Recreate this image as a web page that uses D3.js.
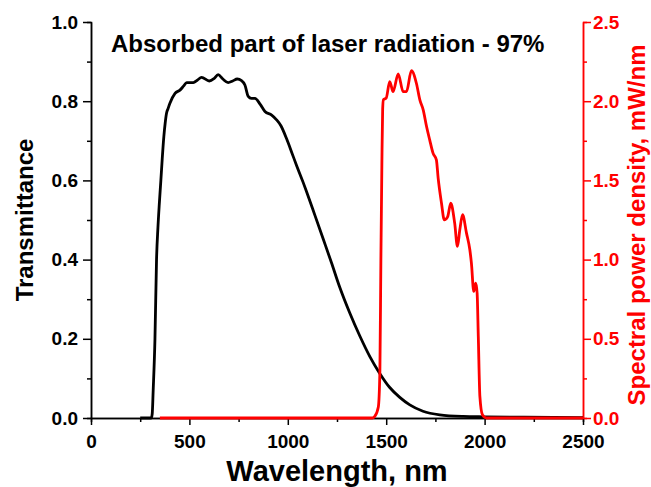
<!DOCTYPE html>
<html>
<head>
<meta charset="utf-8">
<script src="https://cdn.jsdelivr.net/npm/d3@7"></script>
<style>
    body { margin: 0; background: #fff; }
    svg { font-family: "Liberation Sans", Arial, sans-serif; font-weight: bold; }
    .axis path, .axis line { stroke-width: 1.5; }
</style>
</head>
<body>
<svg id="chart" width="651" height="487"></svg>
<script>
/**
 * Data.
 */
const transWavelength = [250, 306, 311, 316, 325, 333, 340, 347, 355, 362,
    370, 377, 384, 392, 401, 427, 452, 470, 486, 520,
    540, 562, 601, 625, 646, 670, 697, 720, 743, 765,
    782, 799, 815, 833, 860, 884, 918, 943, 965, 994,
    1019, 1045, 1078, 1095, 1137, 1180, 1222, 1264, 1315, 1366,
    1417, 1468, 1518, 1569, 1620, 1687, 1772, 1891, 2000, 2200, 2500];
const transmittance = [0, 0, 0.01, 0.07, 0.2, 0.40, 0.48, 0.54, 0.60, 0.655,
    0.71, 0.745, 0.77, 0.782, 0.795, 0.820, 0.828, 0.838, 0.847, 0.847,
    0.853, 0.860, 0.851, 0.857, 0.867, 0.856, 0.847, 0.851, 0.856, 0.852,
    0.841, 0.812, 0.807, 0.807, 0.792, 0.774, 0.765, 0.753, 0.738, 0.705,
    0.672, 0.637, 0.595, 0.572, 0.513, 0.452, 0.392, 0.330, 0.265, 0.207,
    0.155, 0.112, 0.077, 0.052, 0.033, 0.017, 0.008, 0.004, 0.003, 0.002, 0.001];

const laserWavelength = [350, 1430, 1442, 1460, 1468, 1473, 1478, 1482, 1486, 1500,
    1518, 1535, 1561, 1586, 1603, 1628, 1654, 1671, 1688, 1705,
    1721, 1738, 1755, 1764, 1781, 1795, 1812, 1828, 1848, 1862,
    1874, 1888, 1908, 1925, 1933, 1945, 1955, 1962, 1968, 1976,
    1989, 2009, 2500];
const laserPower = [0, 0, 0.01, 0.07, 0.30, 1.0, 1.6, 1.95, 2.01, 2.02,
    2.124, 2.06, 2.172, 2.06, 2.06, 2.193, 2.11, 2.008, 1.945, 1.84,
    1.756, 1.672, 1.63, 1.514, 1.356, 1.251, 1.27, 1.356, 1.230, 1.083,
    1.188, 1.283, 1.167, 1.062, 0.978, 0.799, 0.852, 0.789, 0.515, 0.136,
    0.02, 0, 0];

const xTicks = [0, 500, 1000, 1500, 2000, 2500],
    leftTicks = [0, 0.2, 0.4, 0.6, 0.8, 1.0],
    rightTicks = [0, 0.5, 1.0, 1.5, 2.0, 2.5];

const annotation = 'Absorbed part of laser radiation - 97%',
    xTitle = 'Wavelength, nm',
    leftTitle = 'Transmittance',
    rightTitle = 'Spectral power density, mW/nm';

/**
 * Layout.
 */
const margin = { top: 22, right: 68, bottom: 69, left: 91 },
    visWidth = 651, visHeight = 487,
    width = visWidth - margin.left - margin.right,
    height = visHeight - margin.top - margin.bottom,
    red = '#ff0000',
    tickFont = 19;

const xScale = d3.scaleLinear().domain([0, 2500]).range([0, width]),
    yLeft = d3.scaleLinear().domain([0, 1]).range([height, 0]),
    yRight = d3.scaleLinear().domain([0, 2.5]).range([height, 0]);

const svg = d3.select('#chart');
const g = svg.append('g').attr('transform', 'translate(' + margin.left + ',' + margin.top + ')');

// Minor ticks first so the major ones sit on top
g.append('g').attr('class', 'axis')
    .attr('transform', 'translate(0,' + height + ')')
    .call(d3.axisBottom(xScale).tickValues(d3.range(250, 2500, 500)).tickSize(4).tickFormat(''));
g.append('g').attr('class', 'axis')
    .call(d3.axisLeft(yLeft).tickValues(d3.range(0.1, 1, 0.2)).tickSize(4).tickFormat(''));
g.append('g').attr('class', 'axis')
    .attr('transform', 'translate(' + width + ',0)')
    .call(d3.axisRight(yRight).tickValues([0.25, 0.75, 1.25, 1.75, 2.25]).tickSize(4).tickFormat(''))
    .call(s => s.selectAll('line, path').attr('stroke', red));

// Major axes
g.append('g').attr('class', 'axis')
    .attr('transform', 'translate(0,' + height + ')')
    .call(d3.axisBottom(xScale).tickValues(xTicks).tickFormat(d3.format('d'))
        .tickSize(7).tickSizeOuter(0).tickPadding(10))
    .call(s => s.selectAll('text').attr('font-size', tickFont).attr('fill', '#000'));

g.append('g').attr('class', 'axis')
    .call(d3.axisLeft(yLeft).tickValues(leftTicks).tickFormat(d3.format('.1f'))
        .tickSize(8).tickSizeOuter(0).tickPadding(5))
    .call(s => s.selectAll('text').attr('font-size', tickFont).attr('fill', '#000'));

g.append('g').attr('class', 'axis')
    .attr('transform', 'translate(' + width + ',0)')
    .call(d3.axisRight(yRight).tickValues(rightTicks).tickFormat(d3.format('.1f'))
        .tickSize(8).tickSizeOuter(0).tickPadding(2))
    .call(s => {
        s.selectAll('line, path').attr('stroke', red);
        s.selectAll('text').attr('font-size', tickFont).attr('fill', red);
    });

/**
 * Curves.
 */
const transLine = d3.line()
    .x(i => xScale(transWavelength[i]))
    .y(i => yLeft(transmittance[i]))
    .curve(d3.curveMonotoneX);

const laserLine = d3.line()
    .x(i => xScale(laserWavelength[i]))
    .y(i => yRight(laserPower[i]))
    .curve(d3.curveMonotoneX);

g.append('path')
    .attr('d', transLine(d3.range(transWavelength.length)))
    .attr('fill', 'none')
    .attr('stroke', '#000')
    .attr('stroke-width', 2.8)
    .attr('stroke-linejoin', 'round');

g.append('path')
    .attr('d', laserLine(d3.range(laserWavelength.length)))
    .attr('fill', 'none')
    .attr('stroke', red)
    .attr('stroke-width', 2.8)
    .attr('stroke-linejoin', 'round');

/**
 * Texts.
 */
svg.append('text')
    .attr('x', 111).attr('y', 52)
    .attr('font-size', 24)
    .text(annotation);

svg.append('text')
    .attr('x', margin.left + width / 2).attr('y', 481)
    .attr('text-anchor', 'middle')
    .attr('font-size', 29)
    .text(xTitle);

svg.append('text')
    .attr('transform', 'translate(33,220) rotate(-90)')
    .attr('text-anchor', 'middle')
    .attr('font-size', 24)
    .text(leftTitle);

svg.append('text')
    .attr('transform', 'translate(645,225) rotate(-90)')
    .attr('text-anchor', 'middle')
    .attr('font-size', 24)
    .attr('fill', red)
    .text(rightTitle);
</script>
</body>
</html>
